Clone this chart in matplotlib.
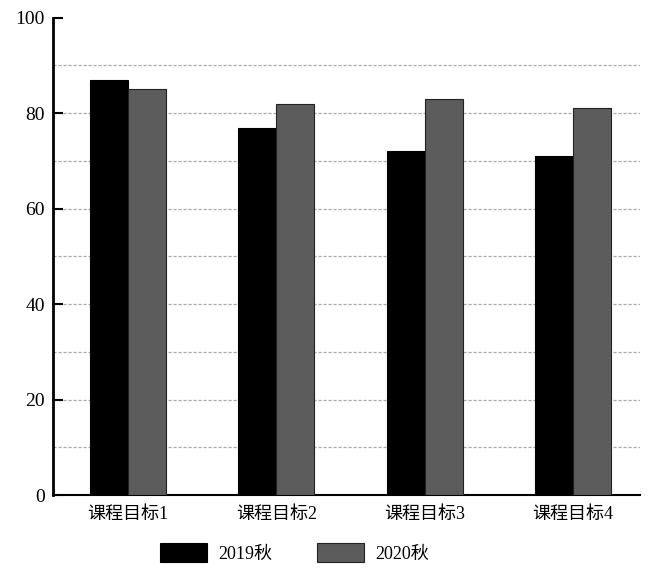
import matplotlib.pyplot as plt
import numpy as np

plt.rcParams['font.family'] = ['Liberation Serif', 'Noto Sans CJK SC']

categories = ['课程目标1', '课程目标2', '课程目标3', '课程目标4']
series_names = ['2019秋', '2020秋']
vals_2019 = [87, 77, 72, 71]
vals_2020 = [85, 82, 83, 81]

fig = plt.figure(figsize=(6.54, 5.73), dpi=100)
ax = fig.add_axes([0.081, 0.136, 0.898, 0.833])

x = np.arange(len(categories))
w = 0.256
b1 = ax.bar(x - w / 2, vals_2019, w, color='black', edgecolor='black', linewidth=0.8, label=series_names[0], zorder=3)
b2 = ax.bar(x + w / 2, vals_2020, w, color='#5c5c5c', edgecolor='#222222', linewidth=0.8, label=series_names[1], zorder=3)

ax.set_xlim(-0.506, 3.452)
ax.set_ylim(0, 100)
ax.set_yticks(range(0, 101, 20))
ax.tick_params(axis='y', direction='in', length=7, width=1.5, labelsize=14, colors='black', pad=6)
ax.tick_params(axis='x', length=0, labelsize=13, pad=8)
ax.set_xticks(x)
ax.set_xticklabels(categories)

for yv in range(10, 100, 10):
    ax.axhline(yv, color='#aaaaaa', linestyle=(0, (2.5, 1.5)), linewidth=0.9, zorder=1)

ax.spines['top'].set_visible(False)
ax.spines['right'].set_visible(False)
ax.spines['left'].set_linewidth(2)
ax.spines['bottom'].set_linewidth(1.5)

fig.legend(handles=[b1, b2], labels=series_names, loc='center', bbox_to_anchor=(0.45, 0.035),
           ncol=2, frameon=False, fontsize=13, handlelength=2.6, handleheight=1.2,
           columnspacing=2.5, handletextpad=0.6)

fig.savefig('out.png', dpi=100)
